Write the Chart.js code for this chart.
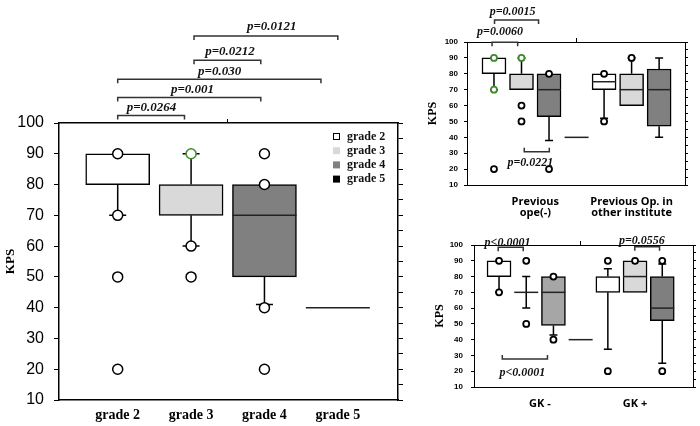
<!DOCTYPE html>
<html>
<head>
<meta charset="utf-8">
<title>KPS box plots</title>
<script src="https://cdn.jsdelivr.net/npm/chart.js@4.4.1/dist/chart.umd.min.js"></script>
<style>
  body { margin: 0; background: #fff; }
  #page { position: relative; width: 700px; height: 426px; overflow: hidden; background: #fff; }
  canvas { position: absolute; }
</style>
</head>
<body>
<div id="page">
  <canvas id="gradeChart" width="406" height="426" style="left:0;top:0"></canvas>
  <canvas id="opeChart" width="294" height="222" style="left:406px;top:0"></canvas>
  <canvas id="gkChart" width="294" height="204" style="left:406px;top:222px"></canvas>
</div>
<script>
// KPS box plots - main panel by grade, two small panels split by previous op / GK

// Main panel: KPS by grade
const gradeLabels = ['grade 2', 'grade 3', 'grade 4', 'grade 5'];
const gradeQ1 = [80, 70, 50, 40];
const gradeQ3 = [90, 80, 80, 40];
const gradeMedian = [null, null, 70, 40];
const gradeWhiskerLow = [70, 60, 41, 40];
const gradeWhiskerHigh = [90, 90, 80, 40];
const gradeOutliers = [[90, 70, 50, 20], [90, 60, 50], [90, 80, 40, 20], []];
const gradeGreen = [[], [90], [], []];
const gradePValues = ['p=0.0264', 'p=0.001', 'p=0.030', 'p=0.0212', 'p=0.0121'];

// Upper right: previous operation (grade 2..5 inside each group)
const opeGroups = [['Previous', 'ope(-)'], ['Previous Op. in', 'other institute']];
const opeQ1 = [[80, 70, 53, 40], [70, 60, 47]];
const opeQ3 = [[90, 80, 80, 40], [80, 80, 83]];
const opeMedian = [[null, null, 70, 40], [75, 70, 70]];
const opeWhiskerLow = [[70, 70, 38, 40], [52, 60, 40]];
const opeWhiskerHigh = [[90, 90, 80, 40], [80, 90, 90]];
const opeOutliers = [[[90, 70, 20], [90, 60, 50], [80, 20], []], [[80, 50], [90], []]];
const opeGreen = [[[90, 70], [90], [], []], [[], [], []]];
const opePValues = ['p=0.0060', 'p=0.0015', 'p=0.0221'];

// Lower right: GK - / GK +
const gkGroups = ['GK -', 'GK +'];
const gkQ1 = [[80, 70, 49, 40], [70, 70, 52]];
const gkQ3 = [[90, 70, 80, 40], [80, 90, 80]];
const gkMedian = [[null, 70, 70, 40], [null, 80, 60]];
const gkWhiskerLow = [[70, 60, 43, 40], [34, 70, 25]];
const gkWhiskerHigh = [[90, 80, 80, 40], [85, 90, 88]];
const gkOutliers = [[[90, 70], [90, 50], [80, 40], []], [[90, 20], [90], [90, 20]]];
const gkGreen = [[[], [], [], []], [[], [], []]];
const gkPValues = ['p<0.0001', 'p<0.0001', 'p=0.0556'];

// KPS axis
const kpsMin = 10;
const kpsMax = 100;
const kpsStep = 5;
const kpsLabelStep = 10;

// Styles
const GREEN = '#3d8b2e';
const gradeFills = ['#ffffff', '#d9d9d9', '#808080', '#000000'];
const gkFills = [['#ffffff', '#d9d9d9', '#a6a6a6', '#000000'], ['#ffffff', '#d9d9d9', '#7f7f7f']];

const gradeLayout = {
    width: 406, height: 426,
    area: { left: 59, right: 398, top: 123, bottom: 400 },
    xMin: -0.8, xMax: 3.82,
    boxWidth: 64, capWidth: 17, lineWidth: 1.5, axisWidth: 1.5,
    pointRadius: 5, pointBorder: 1.5,
    tickLength: 5, tickPad: 10, tickFont: { family: 'Liberation Sans', size: 16 },
    labelFont: { family: 'Liberation Serif', size: 14, weight: 'bold' }, labelPad: 7,
    titleFont: { family: 'Liberation Serif', size: 13, weight: 'bold' }, titlePad: 3,
    pFont: 'italic bold 13px "Liberation Serif"', tip: 4,
    brackets: [
        { x0: 0, x1: 0.91, y: 102.4, lx: 0.46, ly: 104.9 },
        { x0: 0, x1: 1.95, y: 108.3, lx: 1.02, ly: 110.7 },
        { x0: 0, x1: 2.77, y: 114.2, lx: 1.39, ly: 116.6 },
        { x0: 1.04, x1: 1.95, y: 120.4, lx: 1.53, ly: 123.1 },
        { x0: 1.04, x1: 3.0, y: 128.3, lx: 2.10, ly: 131.2 }
    ],
    legend: true
};

const opeLayout = {
    width: 294, height: 222,
    area: { left: 61, right: 279, top: 42, bottom: 185 },
    xMin: -0.98, xMax: 6.94,
    boxWidth: 24, capWidth: 8, lineWidth: 1.5, axisWidth: 1,
    pointRadius: 3, pointBorder: 1.8,
    tickLength: 3, tickPad: 6, tickFont: { family: 'Liberation Sans', size: 8, weight: 'bold' },
    labelFont: { family: 'Open Sans', size: 11, weight: 'bold', lineHeight: 1.05 }, labelPad: 11,
    titleFont: { family: 'Liberation Serif', size: 12, weight: 'bold' }, titlePad: 20,
    pFont: 'italic bold 12px "Liberation Serif"', tip: 4,
    brackets: [
        { x0: -0.07, x1: 0.86, y: 99.8, lx: 0.22, ly: 106.1 },
        { x0: 0.02, x1: 1.62, y: 113.8, lx: 0.68, ly: 118.7 },
        { x0: 1.10, x1: 2.01, y: 30.9, lx: 1.32, ly: 24.0, up: true }
    ]
};

const gkLayout = {
    width: 294, height: 204,
    area: { left: 68, right: 287, top: 23, bottom: 165 },
    xMin: -0.92, xMax: 7.13,
    boxWidth: 24, capWidth: 8, lineWidth: 1.5, axisWidth: 1,
    pointRadius: 3, pointBorder: 1.8,
    tickLength: 3, tickPad: 8, tickFont: { family: 'Liberation Sans', size: 8, weight: 'bold' },
    labelFont: { family: 'Open Sans', size: 11, weight: 'bold' }, labelPad: 10,
    titleFont: { family: 'Liberation Serif', size: 12, weight: 'bold' }, titlePad: 27,
    pFont: 'italic bold 12px "Liberation Serif"', tip: 4,
    brackets: [
        { x0: -0.03, x1: 0.89, y: 98.5, lx: 0.31, ly: 101.1 },
        { x0: 0.12, x1: 1.78, y: 27.7, lx: 0.86, ly: 18.7, up: true },
        { x0: 4.99, x1: 5.9, y: 98.9, lx: 5.25, ly: 102.7 }
    ]
};

// flatten group x grade arrays into boxes on consecutive slots
function buildBoxes(q1, q3, med, lo, hi, outliers, green, fills) {
    const boxes = [];
    const centers = [];
    let slot = 0;
    q1.forEach((groupQ1, g) => {
        const first = slot;
        groupQ1.forEach((v, k) => {
            boxes.push({
                slot, q1: v, q3: q3[g][k], median: med[g][k],
                lo: lo[g][k], hi: hi[g][k],
                outliers: outliers[g][k], green: green[g][k], fill: fills[g][k]
            });
            slot++;
        });
        centers.push((first + slot - 1) / 2);
    });
    return { boxes, centers, slots: slot };
}

function boxExtras(boxes, layout, pValues) {
    return {
        id: 'boxExtras',
        beforeDatasetsDraw(chart) {
            const { ctx, scales: { x, y } } = chart;
            const half = layout.capWidth / 2;
            ctx.save();
            ctx.strokeStyle = '#000';
            ctx.lineWidth = layout.lineWidth;
            boxes.forEach(b => {
                const cx = x.getPixelForValue(b.slot);
                [[b.q3, b.hi], [b.q1, b.lo]].forEach(([from, to]) => {
                    if (to === from) return;
                    const yTo = y.getPixelForValue(to);
                    ctx.beginPath();
                    ctx.moveTo(cx, y.getPixelForValue(from));
                    ctx.lineTo(cx, yTo);
                    ctx.moveTo(cx - half, yTo);
                    ctx.lineTo(cx + half, yTo);
                    ctx.stroke();
                });
            });
            ctx.restore();
        },
        afterDatasetDraw(chart, args) {
            if (args.meta.type !== 'bar') return;
            const { ctx, scales: { x, y } } = chart;
            const half = layout.boxWidth / 2;
            ctx.save();
            ctx.strokeStyle = '#222';
            ctx.lineWidth = layout.lineWidth;
            boxes.forEach(b => {
                if (b.median === null) return;
                const cx = x.getPixelForValue(b.slot);
                const my = y.getPixelForValue(b.median);
                ctx.beginPath();
                ctx.moveTo(cx - half, my);
                ctx.lineTo(cx + half, my);
                ctx.stroke();
            });
            ctx.restore();
        },
        afterDraw(chart) {
            const { ctx, scales: { x, y }, chartArea } = chart;
            ctx.save();
            ctx.strokeStyle = '#333';
            ctx.fillStyle = '#111';
            ctx.lineWidth = 1.5;
            ctx.font = layout.pFont;
            ctx.textAlign = 'center';
            ctx.textBaseline = 'middle';
            layout.brackets.forEach((b, i) => {
                const x0 = x.getPixelForValue(b.x0);
                const x1 = x.getPixelForValue(b.x1);
                const by = y.getPixelForValue(b.y);
                const t = b.up ? -layout.tip : layout.tip;
                ctx.beginPath();
                ctx.moveTo(x0, by + t);
                ctx.lineTo(x0, by);
                ctx.lineTo(x1, by);
                ctx.lineTo(x1, by + t);
                ctx.stroke();
                ctx.fillText(pValues[i], x.getPixelForValue(b.lx), y.getPixelForValue(b.ly));
            });

            if (layout.legend) {
                const lx = chartArea.right - 65;
                ctx.font = 'bold 12px "Liberation Serif"';
                ctx.textAlign = 'left';
                ctx.lineWidth = 1;
                gradeLabels.forEach((label, i) => {
                    const ly = chartArea.top + 13.5 + i * 14.2;
                    ctx.fillStyle = gradeFills[i];
                    ctx.fillRect(lx, ly - 3.5, 7, 7);
                    if (i === 0) {
                        ctx.strokeStyle = '#000';
                        ctx.strokeRect(lx + 0.5, ly - 3, 6, 6);
                    }
                    ctx.fillStyle = '#111';
                    ctx.fillText(label, lx + 14, ly);
                });
            }
            ctx.restore();
        }
    };
}

function drawPanel(canvasId, built, layout, groupLabels, pValues) {
    const { boxes, centers, slots } = built;
    const area = layout.area;

    const outlierPoints = [];
    const outlierColors = [];
    boxes.forEach(b => {
        b.outliers.forEach(v => {
            outlierPoints.push({ x: b.slot, y: v });
            outlierColors.push(b.green.includes(v) ? GREEN : '#000');
        });
    });

    const kpsAxis = (position, width, showLabels) => ({
        type: 'linear',
        position,
        min: kpsMin,
        max: kpsMax,
        beginAtZero: false,
        grid: { drawOnChartArea: false, tickLength: layout.tickLength, color: '#000', lineWidth: 1 },
        border: { display: true, color: '#000', width: layout.axisWidth },
        ticks: {
            display: showLabels,
            stepSize: kpsStep,
            padding: layout.tickPad,
            color: '#000',
            font: layout.tickFont,
            callback: v => (v % kpsLabelStep === 0 ? v : '')
        },
        title: {
            display: showLabels,
            text: 'KPS',
            color: '#000',
            font: layout.titleFont,
            padding: { top: layout.titlePad, bottom: 0 }
        },
        afterFit: s => { s.width = width; }
    });

    new Chart(document.getElementById(canvasId), {
        type: 'scatter',
        data: {
            datasets: [
                {
                    type: 'scatter',
                    data: outlierPoints,
                    pointRadius: layout.pointRadius,
                    pointBorderWidth: layout.pointBorder,
                    pointBorderColor: outlierColors,
                    pointBackgroundColor: '#fff'
                },
                {
                    type: 'bar',
                    data: boxes.map(b => ({ x: b.slot, y: [b.q1, b.q3] })),
                    backgroundColor: boxes.map(b => b.fill),
                    borderColor: '#000',
                    borderWidth: layout.lineWidth,
                    borderSkipped: false,
                    barThickness: layout.boxWidth,
                    grouped: false
                }
            ]
        },
        options: {
            responsive: false,
            animation: false,
            layout: { padding: 0 },
            plugins: {
                legend: { display: false },
                tooltip: { enabled: false }
            },
            scales: {
                x: {
                    type: 'linear',
                    position: 'bottom',
                    min: layout.xMin,
                    max: layout.xMax,
                    offset: false,
                    bounds: 'data',
                    grid: { display: true, drawOnChartArea: false, drawTicks: false, offset: false },
                    border: { display: true, color: '#000', width: layout.axisWidth },
                    afterBuildTicks: axis => { axis.ticks = centers.map(v => ({ value: v })); },
                    ticks: {
                        autoSkip: false,
                        maxRotation: 0,
                        padding: layout.labelPad,
                        color: '#000',
                        font: layout.labelFont,
                        callback: (v, i) => groupLabels[i]
                    },
                    afterFit: s => { s.height = layout.height - area.bottom; }
                },
                xTop: {
                    type: 'linear',
                    position: 'top',
                    min: layout.xMin,
                    max: layout.xMax,
                    offset: false,
                    bounds: 'data',
                    grid: { drawOnChartArea: false, tickLength: 4, color: '#000', offset: false },
                    border: { display: true, color: '#000', width: layout.axisWidth },
                    afterBuildTicks: axis => { axis.ticks = [{ value: (slots - 1) / 2 }]; },
                    ticks: { display: false },
                    afterFit: s => { s.height = area.top; }
                },
                y: kpsAxis('left', area.left, true),
                yRight: kpsAxis('right', layout.width - area.right, false)
            }
        },
        plugins: [boxExtras(boxes, layout, pValues)]
    });
}

const gradeBuilt = buildBoxes(
    gradeQ1.map(v => [v]), gradeQ3.map(v => [v]), gradeMedian.map(v => [v]),
    gradeWhiskerLow.map(v => [v]), gradeWhiskerHigh.map(v => [v]),
    gradeOutliers.map(v => [v]), gradeGreen.map(v => [v]), gradeFills.map(v => [v])
);
const opeBuilt = buildBoxes(opeQ1, opeQ3, opeMedian, opeWhiskerLow, opeWhiskerHigh,
    opeOutliers, opeGreen, [gradeFills, gradeFills.slice(0, 3)]);
const gkBuilt = buildBoxes(gkQ1, gkQ3, gkMedian, gkWhiskerLow, gkWhiskerHigh,
    gkOutliers, gkGreen, gkFills);

drawPanel('gradeChart', gradeBuilt, gradeLayout, gradeLabels, gradePValues);
drawPanel('opeChart', opeBuilt, opeLayout, opeGroups, opePValues);
drawPanel('gkChart', gkBuilt, gkLayout, gkGroups, gkPValues);
</script>
</body>
</html>
